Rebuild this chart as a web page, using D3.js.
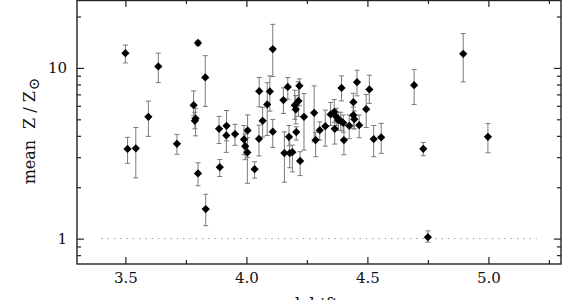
<!DOCTYPE html>
<html>
<head>
<meta charset="utf-8">
<script src="https://cdn.jsdelivr.net/npm/d3@7"></script>
<style>
  body { margin: 0; background: #fff; }
  .tick text { font-family: "DejaVu Serif", serif; font-size: 15px; fill: #111; }
  .tick line { stroke: #222; stroke-width: 1.2; }
</style>
</head>
<body>
<div id="chart"></div>
<script>
// redshift of each system
var redshift = [3.500, 3.636, 3.800, 3.830, 3.595, 3.509, 3.543, 3.713, 3.782, 3.790,
  3.787, 3.800, 3.832, 3.887, 3.918, 3.917, 3.953, 3.890, 4.109, 4.053,
  4.097, 4.086, 4.067, 4.109, 4.005, 3.990, 3.995, 4.004, 4.034, 4.052,
  4.153, 4.171, 4.219, 4.215, 4.200, 4.204, 4.238, 4.176, 4.206, 4.157,
  4.179, 4.190, 4.222, 4.280, 4.286, 4.303, 4.326, 4.348, 4.363, 4.365,
  4.372, 4.380, 4.393, 4.390, 4.400, 4.403, 4.425, 4.442, 4.442, 4.446,
  4.457, 4.466, 4.495, 4.508, 4.526, 4.557, 4.693, 4.896, 4.731, 4.998,
  4.750];

// mean metallicity in solar units
var meanZ = [12.2, 10.2, 14.0, 8.8, 5.17, 3.35, 3.38, 3.59, 6.05, 5.05,
  4.9, 2.41, 1.49, 4.40, 4.58, 4.02, 4.10, 2.62, 12.9, 7.31,
  7.28, 6.11, 4.90, 4.23, 4.30, 3.81, 3.48, 3.20, 2.55, 3.84,
  6.48, 7.74, 7.85, 6.41, 6.05, 5.71, 5.17, 3.95, 4.21, 3.17,
  3.17, 3.21, 2.85, 5.46, 3.78, 4.32, 4.56, 5.34, 5.53, 4.40,
  5.17, 4.94, 7.64, 4.88, 4.77, 3.78, 4.58, 6.30, 5.29, 5.01,
  8.25, 4.62, 5.73, 7.48, 3.83, 3.92, 7.92, 12.1, 3.36, 3.95,
  1.02];

// lower end of error bar
var errLow = [10.7, 8.2, 13.5, 5.95, 3.97, 2.76, 2.27, 3.12, 5.24, 4.0,
  4.4, 2.04, 1.19, 3.61, 3.74, 3.2, 3.52, 2.31, 8.9, 5.92,
  5.58, 4.02, 3.94, 3.42, 2.99, 3.1, 2.9, 2.11, 2.26, 3.05,
  5.41, 6.56, 6.0, 5.2, 5.0, 4.7, 3.30, 3.5, 3.78, 2.14,
  2.60, 2.46, 2.34, 3.69, 3.02, 3.78, 3.48, 4.6, 4.8, 3.58,
  4.6, 4.3, 6.41, 4.3, 4.2, 3.1, 3.85, 5.4, 4.4, 4.4,
  6.86, 3.9, 4.48, 6.2, 3.02, 3.16, 6.11, 8.28, 3.06, 3.18,
  0.953];

// upper end of error bar
var errHigh = [13.6, 12.2, 14.5, 11.8, 6.39, 3.92, 4.48, 4.08, 7.33, 5.8,
  5.5, 2.78, 1.82, 5.2, 5.63, 4.5, 4.67, 2.91, 18.0, 8.79,
  8.98, 8.2, 5.87, 4.99, 5.31, 4.6, 4.1, 3.9, 2.82, 4.62,
  7.64, 8.79, 8.62, 8.3, 7.4, 6.9, 7.08, 4.6, 4.52, 4.22,
  3.87, 3.53, 3.23, 7.85, 4.2, 4.83, 5.66, 6.28, 6.53, 5.2,
  5.8, 5.5, 8.98, 5.5, 5.3, 4.6, 5.3, 7.1, 5.9, 5.6,
  9.7, 5.3, 6.99, 9.06, 4.6, 4.73, 9.79, 15.9, 3.66, 4.73,
  1.11];

// axis ticks
var xMajorTicks = [3.5, 4.0, 4.5, 5.0];
var xMinorTicks = [3.75, 4.25, 4.75, 5.25];
var yMajorTicks = [1, 10];
var yMinorTicks = [0.8, 0.9, 2, 3, 4, 5, 6, 7, 8, 9, 20];

// solar reference line
var refLevel = 1;
var refRange = [3.4, 5.2];

var svgWidth = 572;
var svgHeight = 300;

var margin = {
  top: 0,
  right: 11,
  bottom: 36,
  left: 77
};

var width = svgWidth - margin.left - margin.right;
var height = svgHeight - margin.top - margin.bottom;

var svg = d3.select("#chart")
  .append("svg")
  .attr("width", svgWidth)
  .attr("height", svgHeight);

var chartGroup = svg.append("g")
  .attr("transform", `translate(${margin.left}, ${margin.top})`);

var data = redshift.map(function(z, i) {
  return { z: z, val: meanZ[i], lo: errLow[i], hi: errHigh[i] };
});

// scales
var xLinearScale = d3.scaleLinear()
  .domain([3.3, 5.3])
  .range([0, width]);

var yLogScale = d3.scaleLog()
  .domain([0.71, 25])
  .range([height, 0]);

// axes, ticks pointing inwards on all four sides
function addAxis(axis, transform) {
  var g = chartGroup.append("g")
    .attr("transform", transform)
    .call(axis);
  g.select(".domain").remove();
  return g;
}

addAxis(d3.axisBottom(xLinearScale).tickValues(xMajorTicks).tickSize(-7).tickPadding(8.5)
  .tickFormat(d3.format(".1f")), `translate(0, ${height})`);
addAxis(d3.axisBottom(xLinearScale).tickValues(xMinorTicks).tickSize(-4).tickFormat(""),
  `translate(0, ${height})`);
addAxis(d3.axisTop(xLinearScale).tickValues(xMajorTicks).tickSize(-7).tickFormat(""), "translate(0, 0)");
addAxis(d3.axisTop(xLinearScale).tickValues(xMinorTicks).tickSize(-4).tickFormat(""), "translate(0, 0)");

addAxis(d3.axisLeft(yLogScale).tickValues(yMajorTicks).tickSize(-7).tickPadding(10)
  .tickFormat(d3.format("d")), "translate(0, 0)");
addAxis(d3.axisLeft(yLogScale).tickValues(yMinorTicks).tickSize(-4).tickFormat(""), "translate(0, 0)");
addAxis(d3.axisRight(yLogScale).tickValues(yMajorTicks).tickSize(-7).tickFormat(""),
  `translate(${width}, 0)`);
addAxis(d3.axisRight(yLogScale).tickValues(yMinorTicks).tickSize(-4).tickFormat(""),
  `translate(${width}, 0)`);

// frame
chartGroup.append("rect")
  .attr("x", 0)
  .attr("y", 0.5)
  .attr("width", width)
  .attr("height", height - 0.5)
  .attr("fill", "none")
  .attr("stroke", "#222")
  .attr("stroke-width", 1.4);

// dotted solar line
chartGroup.append("line")
  .attr("x1", xLinearScale(refRange[0]))
  .attr("x2", xLinearScale(refRange[1]))
  .attr("y1", yLogScale(refLevel))
  .attr("y2", yLogScale(refLevel))
  .attr("stroke", "#999")
  .attr("stroke-width", 1)
  .attr("stroke-dasharray", "1.5,4.8");

// error bars
var errGroup = chartGroup.append("g")
  .attr("stroke", "#7a7a7a")
  .attr("stroke-width", 1)
  .attr("fill", "none");

var bars = errGroup.selectAll("g")
  .data(data)
  .enter()
  .append("g");

bars.append("line")
  .attr("x1", d => xLinearScale(d.z))
  .attr("x2", d => xLinearScale(d.z))
  .attr("y1", d => yLogScale(d.lo))
  .attr("y2", d => yLogScale(d.hi));

bars.append("line")
  .attr("x1", d => xLinearScale(d.z) - 2.5)
  .attr("x2", d => xLinearScale(d.z) + 2.5)
  .attr("y1", d => yLogScale(d.lo))
  .attr("y2", d => yLogScale(d.lo));

bars.append("line")
  .attr("x1", d => xLinearScale(d.z) - 2.5)
  .attr("x2", d => xLinearScale(d.z) + 2.5)
  .attr("y1", d => yLogScale(d.hi))
  .attr("y2", d => yLogScale(d.hi));

// diamond markers
chartGroup.append("g")
  .selectAll("path")
  .data(data)
  .enter()
  .append("path")
  .attr("transform", d => `translate(${xLinearScale(d.z)}, ${yLogScale(d.val)}) rotate(45)`)
  .attr("d", d3.symbol().type(d3.symbolSquare).size(34))
  .attr("fill", "#000");

// axis labels (x label sits partly below the edge, as in the original)
chartGroup.append("text")
  .attr("x", width / 2 - 14)
  .attr("y", height + 46)
  .attr("text-anchor", "middle")
  .attr("font-family", "DejaVu Serif, serif")
  .attr("font-size", "17px")
  .attr("fill", "#111")
  .text("redshift");

var yLabel = svg.append("text")
  .attr("transform", "translate(35, 131) rotate(-90)")
  .attr("text-anchor", "middle")
  .attr("font-family", "DejaVu Serif, serif")
  .attr("font-size", "16px")
  .attr("fill", "#111");

yLabel.append("tspan").text("mean");
yLabel.append("tspan").attr("dx", 11).text("Z");
yLabel.append("tspan").attr("dx", 5).text("/");
yLabel.append("tspan").attr("dx", 5).text("Z");
yLabel.append("tspan").attr("dy", 4).attr("dx", 1).attr("font-size", "15px").text("\u2299");
</script>
</body>
</html>
